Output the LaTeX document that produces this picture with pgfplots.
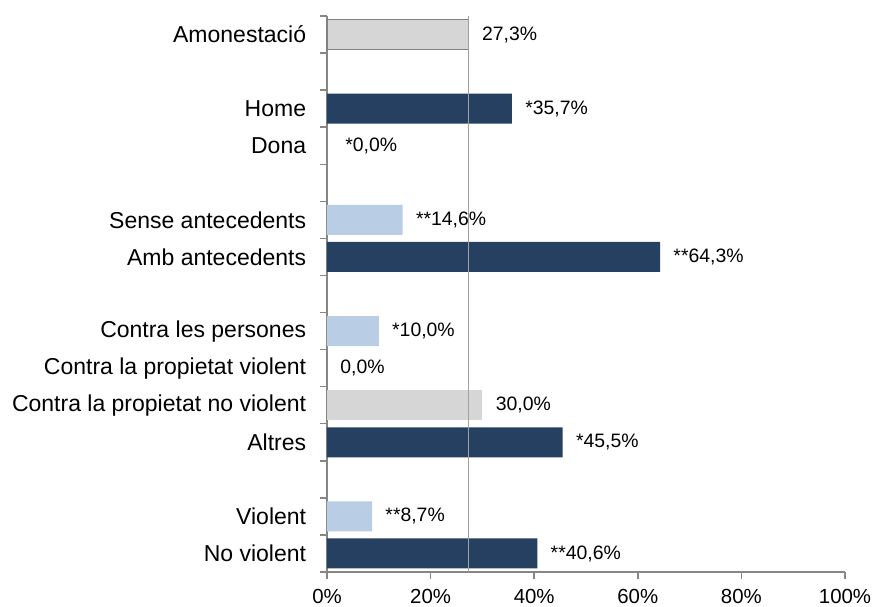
\documentclass[border=0pt]{standalone}
\usepackage{pgfplots}
\pgfplotsset{compat=1.18}
\usepackage{fontspec}
\setmainfont{Liberation Sans}
\definecolor{navy}{RGB}{38,64,97}
\definecolor{lblue}{RGB}{185,205,229}
\definecolor{lgray}{RGB}{214,214,214}
\definecolor{dgray}{RGB}{128,128,128}
\definecolor{axgray}{RGB}{134,134,134}
\definecolor{refgray}{RGB}{160,160,160}
\begin{document}
\begin{tikzpicture}
\begin{axis}[
  at={(0,0)}, anchor=south west,
  scale only axis, width=259pt, height=278pt,
  xbar, bar width=15pt, bar shift=0pt,
  xmin=0, xmax=100,
  ymin=-0.5, ymax=14.5, y dir=reverse,
  axis x line*=bottom, axis y line*=left,
  axis line style={draw=axgray, line width=0.75pt},
  tick align=outside,
  major tick length=3.5pt,
  tick style={draw=axgray, line width=0.75pt},
  xtick={0,20,40,60,80,100},
  xticklabel={\pgfmathprintnumber{\tick}\%},
  /pgf/number format/assume math mode=true,
  xticklabel style={font=\fontsize{10.2}{12}\selectfont, inner sep=0pt, anchor=north, yshift=-5pt},
  ytick={-0.5,0.5,1.5,2.5,3.5,4.5,5.5,6.5,7.5,8.5,9.5,10.5,11.5,12.5,13.5,14.5},
  yticklabels={},
  extra y ticks={0,2,3,5,6,8,9,10,11,13,14},
  extra y tick labels={Amonestació,Home,Dona,Sense antecedents,Amb antecedents,Contra les persones,Contra la propietat violent,Contra la propietat no violent,Altres,Violent,No violent},
  extra y tick style={major tick length=0pt, tick style={draw=none},
    yticklabel style={font=\fontsize{11.5}{13}\selectfont, inner sep=0pt, anchor=east, xshift=-10.25pt}},
  point meta=explicit symbolic,
  nodes near coords,
  every node near coord/.append style={anchor=west, inner sep=0pt, xshift=6.5pt, font=\fontsize{9.7}{11}\selectfont, text=black},
  clip=false,
]
\addplot[fill=lgray, draw=dgray, line width=0.75pt] coordinates {(27.3,0) [27,3\%]};
\addplot[fill=navy, draw=none] coordinates {(35.7,2) [*35,7\%] (64.3,6) [**64,3\%] (45.5,11) [*45,5\%] (40.6,14) [**40,6\%]};
\addplot[draw=none, fill=none, every node near coord/.append style={xshift=2.5pt}] coordinates {(0,3) [*0,0\%]};
\addplot[fill=lblue, draw=none] coordinates {(14.6,5) [**14,6\%] (10.0,8) [*10,0\%] (8.7,13) [**8,7\%]};
\addplot[draw=none, fill=none] coordinates {(0,9) [0,0\%]};
\addplot[fill=lgray, draw=none] coordinates {(30.0,10) [30,0\%]};
\draw[refgray, line width=0.75pt] (axis cs:27.3,-0.5) -- (axis cs:27.3,14.5);
\end{axis}
\pgfresetboundingbox
\path[use as bounding box] (-163.5pt,-17pt) rectangle (272.5pt,286pt);
\end{tikzpicture}
\end{document}
